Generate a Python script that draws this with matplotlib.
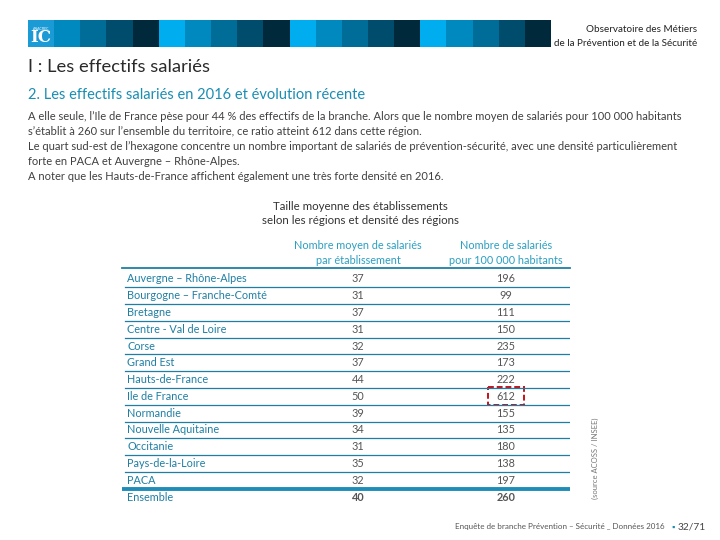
import matplotlib.pyplot as plt
from matplotlib.patches import Rectangle

plt.rcParams['font.family'] = ['Lato', 'DejaVu Sans']

# table data
regions = ['Auvergne – Rhône-Alpes', 'Bourgogne – Franche-Comté', 'Bretagne',
           'Centre - Val de Loire', 'Corse', 'Grand Est', 'Hauts-de-France',
           'Ile de France', 'Normandie', 'Nouvelle Aquitaine', 'Occitanie',
           'Pays-de-la-Loire', 'PACA']
moyen_salaries = [37, 31, 37, 31, 32, 37, 44, 50, 39, 34, 31, 35, 32]
salaries_100k = [196, 99, 111, 150, 235, 173, 222, 612, 155, 135, 180, 138, 197]
total_label = 'Ensemble'
total_moyen = 40
total_100k = 260
highlight = 'Ile de France'

col_headers = ['Nombre moyen de salariés\npar établissement',
               'Nombre de salariés\npour 100 000 habitants']
band_colors = ['#00aeef', '#0089bf', '#006c98', '#004c6c', '#002a3c']

paragraph = [
    "A elle seule, l’Ile de France pèse pour 44 % des effectifs de la branche. Alors que le nombre moyen de salariés pour 100 000 habitants",
    "s’établit à 260 sur l’ensemble du territoire, ce ratio atteint 612 dans cette région.",
    "Le quart sud-est de l’hexagone concentre un nombre important de salariés de prévention-sécurité, avec une densité particulièrement",
    "forte en PACA et Auvergne – Rhône-Alpes.",
    "A noter que les Hauts-de-France affichent également une très forte densité en 2016.",
]

W, H = 720, 540
fig = plt.figure(figsize=(7.2, 5.4), dpi=100)

# slide background axes in pixel units
bg = fig.add_axes([0, 0, 1, 1])
bg.set_xlim(0, W)
bg.set_ylim(H, 0)
bg.axis('off')

# header band
x0, bw = 28, 26.15
for k in range(20):
    c = band_colors[k % 5]
    if k == 0:
        c = '#1b9bd6'
    bg.add_patch(Rectangle((x0 + k * bw, 20), bw + 0.3, 27, color=c, lw=0))
bg.text(x0 + bw / 2, 29, 'ANACREC', fontsize=2.5, color='white', ha='center', va='center')
bg.text(x0 + bw / 2, 38, 'IC', fontsize=12, color='white', ha='center', va='center',
        family='DejaVu Serif', fontweight='bold')

bg.text(697, 30, 'Observatoire des Métiers', fontsize=7.1, color='#222222', ha='right', va='center')
bg.text(697, 43, 'de la Prévention et de la Sécurité', fontsize=7.1, color='#222222', ha='right', va='center')

bg.text(28, 67, 'I : Les effectifs salariés', fontsize=13.2, color='#2a2a2a', va='center')
bg.text(28, 95, '2. Les effectifs salariés en 2016 et évolution récente', fontsize=10.5,
        color='#1a8db3', va='center')

for i, line in enumerate(paragraph):
    bg.text(28, 116 + i * 15.1, line, fontsize=8.0, color='#404040', va='center')

bg.text(360, 206, 'Taille moyenne des établissements', fontsize=8.3, color='#333333',
        ha='center', va='center')
bg.text(360, 221, 'selon les régions et densité des régions', fontsize=8.3, color='#333333',
        ha='center', va='center')

bg.text(595, 458, '(source ACOSS / INSEE)', fontsize=5.5, color='#777777', rotation=90,
        ha='center', va='center')

bg.text(665, 527, 'Enquête de branche Prévention – Sécurité _ Données 2016', fontsize=5.8,
        color='#555555', ha='right', va='center')
bg.text(671, 527, '▪', fontsize=6, color='#1a8db3', ha='left', va='center')
bg.text(706, 527, '32/71', fontsize=7.3, color='#444444', ha='right', va='center')

# table axes: x in pixels, y in row index
left, right, top, bottom = 122, 570, 270.6, 505.4
ax = fig.add_axes([left / W, 1 - bottom / H, (right - left) / W, (bottom - top) / H])
ax.set_xlim(left, right)
n = len(regions)
ax.set_ylim(n + 0.5, -0.5)
ax.axis('off')

name_x, c1_x, c2_x = 127, 358, 506
teal = '#1f7fa3'
head = '#2a9fc2'

for j, hdr in enumerate(col_headers):
    ax.text([c1_x, c2_x][j], -1.55, hdr, fontsize=7.8, color=head, ha='center', va='center',
            linespacing=1.55, clip_on=False)

ax.plot([left, right], [-0.65, -0.65], color=teal, lw=1.3, clip_on=False)

for i, (name, a, b) in enumerate(zip(regions, moyen_salaries, salaries_100k)):
    ax.text(name_x, i, name, fontsize=7.8, color=teal, va='center')
    ax.text(c1_x, i, str(a), fontsize=7.8, color='#555555', ha='center', va='center')
    ax.text(c2_x, i, str(b), fontsize=7.8, color='#555555', ha='center', va='center')
    if i < n - 1:
        ax.plot([left + 3, right], [i + 0.5, i + 0.5], color=teal, lw=0.9)

ax.plot([left, right], [n - 0.5, n - 0.5], color='#1f8db8', lw=2.8)
ax.text(name_x, n, total_label, fontsize=7.8, color=teal, va='center')
ax.text(c1_x, n, str(total_moyen), fontsize=7.8, color='#555555', ha='center', va='center',
        fontweight='bold')
ax.text(c2_x, n, str(total_100k), fontsize=7.8, color='#555555', ha='center', va='center',
        fontweight='bold')

hi = regions.index(highlight)
ax.add_patch(Rectangle((c2_x - 18, hi - 0.55), 36, 1.05, fill=False, ec='#c0121c',
                       lw=1.4, ls=(0, (3, 1.5)), clip_on=False))

fig.savefig('out.png', dpi=100)
